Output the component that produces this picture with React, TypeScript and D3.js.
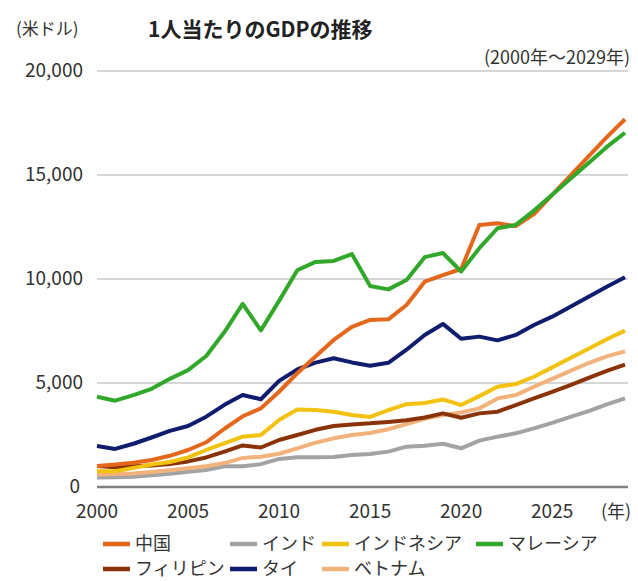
import React from "react";
import * as d3 from "d3";

const years = d3.range(2000, 2030);
const china = [1010, 1080, 1170, 1300, 1500, 1780, 2150, 2800, 3400, 3780, 4580, 5470, 6270, 7070, 7700, 8030, 8060, 8750, 9870, 10190, 10480, 12600, 12680, 12540, 13120, 14040, 14970, 15900, 16820, 17680];
const india = [460, 470, 490, 560, 640, 730, 820, 1000, 1000, 1100, 1350, 1430, 1430, 1440, 1540, 1590, 1700, 1940, 1980, 2080, 1860, 2230, 2420, 2580, 2820, 3080, 3370, 3650, 3970, 4260];
const indonesia = [760, 760, 920, 1080, 1200, 1420, 1780, 2100, 2420, 2500, 3220, 3730, 3700, 3620, 3460, 3370, 3700, 3980, 4040, 4210, 3940, 4370, 4820, 4950, 5300, 5750, 6200, 6650, 7100, 7520];
const malaysia = [4340, 4150, 4420, 4720, 5200, 5620, 6300, 7450, 8800, 7530, 8950, 10420, 10820, 10870, 11200, 9660, 9500, 9950, 11050, 11250, 10360, 11480, 12440, 12600, 13290, 14050, 14820, 15580, 16350, 17030];
const philippines = [1010, 950, 1000, 1030, 1100, 1230, 1420, 1700, 2000, 1900, 2260, 2500, 2750, 2930, 3010, 3060, 3130, 3210, 3340, 3540, 3330, 3540, 3620, 3940, 4260, 4570, 4900, 5250, 5580, 5880];
const thailand = [1970, 1830, 2080, 2380, 2700, 2930, 3380, 3950, 4420, 4220, 5100, 5650, 5980, 6190, 5990, 5830, 5970, 6600, 7310, 7840, 7130, 7230, 7050, 7310, 7790, 8190, 8670, 9150, 9630, 10080];
const vietnam = [600, 620, 650, 720, 800, 900, 1000, 1150, 1400, 1450, 1600, 1860, 2130, 2340, 2500, 2600, 2780, 3020, 3280, 3460, 3580, 3780, 4260, 4420, 4820, 5200, 5580, 5960, 6280, 6520];

const yTicks = [0, 5000, 10000, 15000, 20000];
const xTicks = [2000, 2005, 2010, 2015, 2020, 2025];

const seriesNames = ["中国", "インド", "インドネシア", "マレーシア", "フィリピン", "タイ", "ベトナム"];
const seriesValues = [china, india, indonesia, malaysia, philippines, thailand, vietnam];
const seriesColors = ["#e5671c", "#a3a3a3", "#f3c10f", "#31a82a", "#8a3208", "#101c6e", "#f2b27b"];
// draw order (back to front)
const drawOrder = [1, 6, 4, 2, 5, 0, 3];

const legendRows = [
  [0, 1, 2, 3],
  [4, 5, 6],
];
const legendX = [[103, 230, 322, 476], [103, 230, 322]];

const FONT = "'Noto Sans CJK JP', 'Noto Sans', sans-serif";

export default function App() {
  const W = 638, H = 581;
  const x = d3.scaleLinear().domain([2000, 2029]).range([97, 625]);
  const y = d3.scaleLinear().domain([0, 20000]).range([487, 71]);
  const line = d3.line<number>().x((_, i) => x(years[i])).y((d) => y(d));
  const fmt = d3.format(",");

  return (
    <svg width={W} height={H} style={{ position: "absolute", left: 0, top: 0, background: "#fff" }} fontFamily={FONT}>
      <text x={16} y={35} fontSize={17} fill="#333">(米ドル)</text>
      <text x={148} y={37} fontSize={21} fontWeight={700} fill="#222">1人当たりのGDPの推移</text>
      <text x={630} y={64} fontSize={18} fill="#333" textAnchor="end">(2000年～2029年)</text>

      {yTicks.map((t) => (
        <g key={t}>
          <line x1={97} x2={628} y1={y(t)} y2={y(t)} stroke={t === 0 ? "#808080" : "#c8c8c8"} strokeWidth={t === 0 ? 2.5 : 1.5} />
          <text x={t === 0 ? 80 : 83} y={y(t) + 6} fontSize={19} fill="#333" textAnchor="end">{fmt(t)}</text>
        </g>
      ))}
      {xTicks.map((t) => (
        <text key={t} x={x(t)} y={518} fontSize={19} fill="#333" textAnchor="middle">{t}</text>
      ))}
      <text x={616} y={518} fontSize={18} fill="#333" textAnchor="middle">(年)</text>

      {drawOrder.map((i) => (
        <path key={i} d={line(seriesValues[i]) || ""} fill="none" stroke={seriesColors[i]} strokeWidth={4} strokeLinejoin="round" />
      ))}

      {legendRows.map((row, r) =>
        row.map((i, k) => {
          const lx = legendX[r][k];
          const ly = r === 0 ? 544 : 569;
          return (
            <g key={i}>
              <line x1={lx} x2={lx + 27} y1={ly} y2={ly} stroke={seriesColors[i]} strokeWidth={4.5} />
              <text x={lx + 32} y={ly + 6} fontSize={18} fill="#333">{seriesNames[i]}</text>
            </g>
          );
        })
      )}
    </svg>
  );
}
